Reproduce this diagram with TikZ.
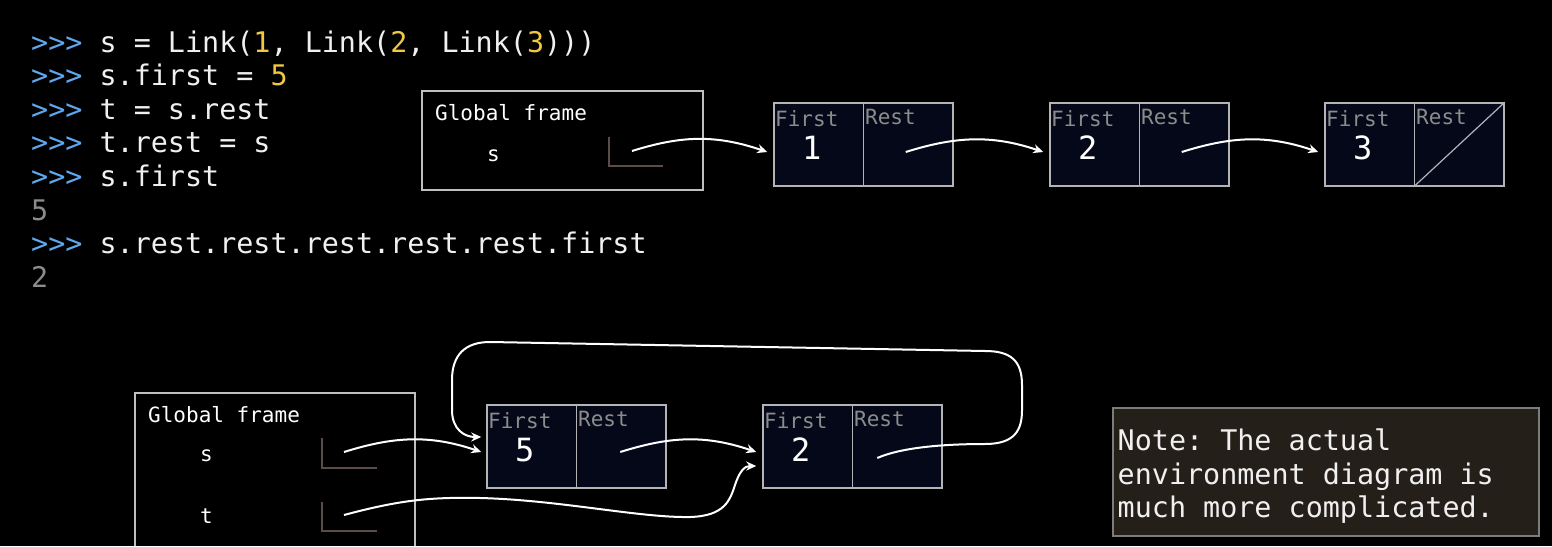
\documentclass[tikz,border=0pt]{standalone}
\usepackage{fontspec}
\setmonofont{DejaVu Sans Mono}
\usetikzlibrary{arrows.meta}
\definecolor{prompt}{HTML}{5FA8F0}
\definecolor{numcol}{HTML}{F2C744}
\definecolor{outcol}{HTML}{8C8C8C}
\definecolor{cellfill}{HTML}{050819}
\definecolor{cellline}{HTML}{B4B4B4}
\definecolor{slotline}{HTML}{5C4C47}
\definecolor{notefill}{HTML}{251F1A}
\definecolor{noteline}{HTML}{7C7C7C}
\begin{document}
\begin{tikzpicture}[x=1pt, y=-1pt,
    code/.style={anchor=base west, inner sep=0pt, text=white!94!black, font=\ttfamily\fontsize{28.4}{33.5}\selectfont},
    small/.style={anchor=base west, inner sep=0pt, font=\ttfamily\fontsize{21}{24}\selectfont},
    val/.style={anchor=base west, inner sep=0pt, text=white, font=\ttfamily\fontsize{32}{36}\selectfont},
    gframe/.style={draw=white!75!black, line width=1.5pt},
    slot/.style={draw=slotline, line width=1.5pt},
    cell/.style={draw=cellline, fill=cellfill, line width=1.5pt, minimum width=89.5pt, minimum height=83pt, inner sep=0pt},
    ptr/.style={draw=white, line width=2pt, -{Stealth[length=10pt, width=9pt]}}]
    \fill[black] (0,0) rectangle (1552,546);
    \useasboundingbox (0,0) rectangle (1552,546);

    % interpreter session
    \node[code] (l1) at (31,52) {{\color{prompt}>>>} s = Link({\color{numcol}1}, Link({\color{numcol}2}, Link({\color{numcol}3})))};
    \node[code] (l2) at (31,85.6) {{\color{prompt}>>>} s.first = {\color{numcol}5}};
    \node[code] (l3) at (31,119.2) {{\color{prompt}>>>} t = s.rest};
    \node[code] (l4) at (31,152.8) {{\color{prompt}>>>} t.rest = s};
    \node[code] (l5) at (31,186.4) {{\color{prompt}>>>} s.first};
    \node[code, text=outcol] (l6) at (31,220) {5};
    \node[code] (l7) at (31,253.6) {{\color{prompt}>>>} s.rest.rest.rest.rest.rest.first};
    \node[code, text=outcol] (l8) at (31,287.2) {2};

    % link boxes
    \foreach \n/\x/\y/\v in {a/774/103/1, b/1050/103/2, c/1325/103/3, d/487/405/5, e/763/405/2} {
        \node[cell] (\n-f) at (\x+44.75, \y+41.5) {};
        \node[cell] (\n-r) at (\x+134.25, \y+41.5) {};
        \node[small, text=outcol] (\n-fl) at (\x+1, \y+23) {First};
        \node[small, text=outcol] (\n-rl) at (\x+91, \y+21) {Rest};
        \node[val] (\n-v) at (\x+28, \y+56) {\v};
    }
    \draw[cellline, line width=1.2pt] (c-r.south west) -- (c-r.north east);

    % top frame
    \draw[gframe] (422,91) rectangle (703,190);
    \node[small, text=white] (gf1) at (435,120) {Global frame};
    \node[small, text=white] (s1) at (487,161) {s};
    \draw[slot] (609,137) |- (663,166);
    \coordinate (s1p) at (632,151);
    \draw[ptr] (s1p) .. controls +(48,-15) and +(-53,-18) .. ([shift={(-6,7.5)}]a-f.west);
    \draw[ptr] ([shift={(-2.5,7.5)}]a-r.center) .. controls +(48,-15) and +(-53,-18) .. ([shift={(-6,7.5)}]b-f.west);
    \draw[ptr] ([shift={(-2.5,7.5)}]b-r.center) .. controls +(48,-15) and +(-53,-18) .. ([shift={(-6,7.5)}]c-f.west);

    % bottom frame
    \draw[gframe] (135,546) |- (415,393) -- (415,546);
    \node[small, text=white] (gf2) at (148,422) {Global frame};
    \node[small, text=white] (s2) at (200,461) {s};
    \node[small, text=white] (t2) at (200,523) {t};
    \draw[slot] (322,438) |- (377,468);
    \draw[slot] (322,502) |- (377,531);
    \coordinate (s2p) at (344,452);
    \coordinate (t2p) at (344,515);
    \draw[ptr] (s2p) .. controls +(48,-15) and +(-53,-18) .. ([shift={(-5,5.5)}]d-f.west);
    \draw[ptr] ([shift={(-1,5.5)}]d-r.center) .. controls +(48,-15) and +(-53,-18) .. ([shift={(-6,5.5)}]e-f.west);
    \draw[ptr] (t2p) .. controls (400,500) and (430,497) .. (480,498)
        .. controls (560,500) and (640,518) .. (690,517)
        .. controls (725,516) and (730,500) .. (735,485)
        .. controls (740,470) and (745,466) .. ([shift={(-6,19.5)}]e-f.west);
    \draw[ptr] ([shift={(-20,11.5)}]e-r.center) .. controls (900,448) and (940,444) .. (985,444)
        .. controls (1015,444) and (1022,430) .. (1022,410) -- (1022,385)
        .. controls (1022,360) and (1010,351) .. (985,351) -- (490,342)
        .. controls (465,342) and (452,355) .. (452,380) -- (452,410)
        .. controls (452,430) and (465,437) .. ([shift={(-5,-9.5)}]d-f.west);

    % note
    \node[draw=noteline, fill=notefill, line width=1.5pt, minimum width=426pt, minimum height=128pt, anchor=north west, inner sep=0pt] (note) at (1112,407) {};
    \node[code, anchor=north west, align=left] (notetxt) at (1117.5,429) {Note: The actual\\environment diagram is\\much more complicated.};
\end{tikzpicture}
\end{document}
